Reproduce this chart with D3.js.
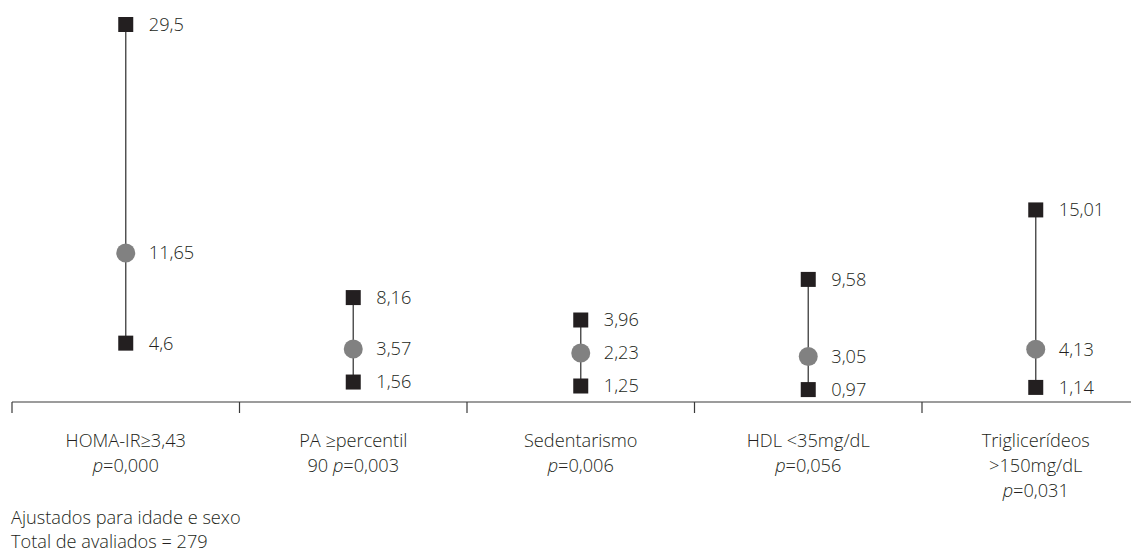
<!DOCTYPE html>
<html><head><meta charset="utf-8">
<script src="https://cdn.jsdelivr.net/npm/d3@7"></script>
<style>body{margin:0;background:#fff} svg{display:block}</style>
</head><body><svg id="c" width="1131" height="560"></svg>
<script>
// ---- data ----
const categories = ["HOMA-IR≥3,43", "PA ≥percentil 90", "Sedentarismo", "HDL <35mg/dL", "Triglicerídeos >150mg/dL"];
const categoryLines = [["HOMA-IR≥3,43"], ["PA ≥percentil"], ["Sedentarismo"], ["HDL <35mg/dL"], ["Triglicerídeos", ">150mg/dL"]];
const pPrefix = ["", "90 ", "", "", ""];
const pValues = ["0,000", "0,003", "0,006", "0,056", "0,031"];
const oddsRatio = [11.65, 3.57, 2.23, 3.05, 4.13];
const ciLower = [4.6, 1.56, 1.25, 0.97, 1.14];
const ciUpper = [29.5, 8.16, 3.96, 9.58, 15.01];
const notes = ["Ajustados para idade e sexo", "Total de avaliados = 279"];

// ---- layout ----
const svg = d3.select("#c");
const FONT = "'Open Sans', 'Noto Sans', sans-serif";
const FS = "18.2px";
const TXT = "#231f20";

const x = d3.scaleBand().domain(categories).range([12, 1149.5]).paddingInner(0).paddingOuter(0);
const y = d3.scaleLinear().domain([0, d3.max(ciUpper)]).range([402, 24.5]);
const fmt = v => String(v).replace(".", ",");
const minGap = 33;

function styleText(s) {
  return s.attr("font-family", FONT).attr("font-size", FS).attr("font-weight", 300).attr("fill", TXT);
}

// axis line + boundary ticks
const axisY = y(0);
svg.append("line").attr("x1", x.range()[0]).attr("x2", x.range()[1])
  .attr("y1", axisY).attr("y2", axisY).attr("stroke", "#3a3a3a").attr("stroke-width", 1.2);
svg.selectAll("line.tick").data(categories).enter().append("line").attr("class", "tick")
  .attr("x1", d => x(d)).attr("x2", d => x(d))
  .attr("y1", axisY).attr("y2", axisY + 11)
  .attr("stroke", "#3a3a3a").attr("stroke-width", 1.2);

// marks
categories.forEach((c, i) => {
  const cx = x(c) + x.bandwidth() / 2;
  const pts = [
    { v: ciLower[i], type: "sq" },
    { v: oddsRatio[i], type: "ci" },
    { v: ciUpper[i], type: "sq" }
  ];
  // keep markers/labels apart (label collision avoidance)
  pts.forEach((p, k) => {
    p.py = k === 0 ? y(p.v) : Math.min(y(p.v), pts[k - 1].py - minGap);
  });
  const g = svg.append("g");
  g.append("line").attr("x1", cx).attr("x2", cx)
    .attr("y1", pts[2].py).attr("y2", pts[0].py)
    .attr("stroke", "#4a4a4a").attr("stroke-width", 1.4);
  pts.forEach(p => {
    if (p.type === "sq") {
      g.append("rect").attr("x", cx - 7.5).attr("y", p.py - 7.5)
        .attr("width", 15).attr("height", 15).attr("fill", "#231f20");
    } else {
      g.append("circle").attr("cx", cx).attr("cy", p.py).attr("r", 9.5).attr("fill", "#818181");
    }
    styleText(g.append("text")).attr("x", cx + 23).attr("y", p.py).attr("dy", "0.35em").text(fmt(p.v));
  });

  // category label
  const lines = categoryLines[i];
  lines.forEach((l, k) => {
    styleText(svg.append("text")).attr("text-anchor", "middle")
      .attr("x", cx).attr("y", 446.5 + k * 25.3).text(l);
  });
  const pt = styleText(svg.append("text")).attr("text-anchor", "middle")
    .attr("x", cx).attr("y", 446.5 + lines.length * 25.3);
  if (pPrefix[i]) pt.append("tspan").text(pPrefix[i]);
  pt.append("tspan").attr("font-style", "italic").text("p");
  pt.append("tspan").text("=" + pValues[i]);
});

// notes
notes.forEach((n, k) => {
  styleText(svg.append("text")).attr("x", 11).attr("y", 524 + k * 24).text(n);
});
</script>
</body></html>
